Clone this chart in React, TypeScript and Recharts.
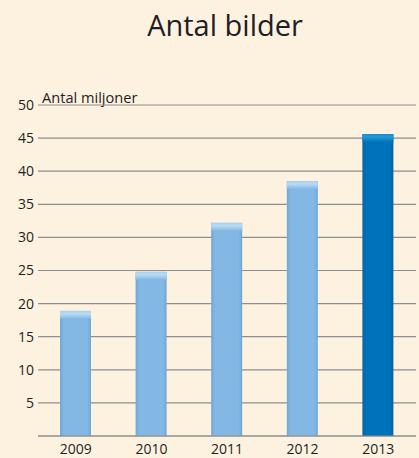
import React from 'react';
import { BarChart, Bar, XAxis, YAxis, CartesianGrid, Cell } from 'recharts';

const years = ['2009', '2010', '2011', '2012', '2013'];
const values = [18.9, 24.8, 32.2, 38.5, 45.6];
const yTicks = [5, 10, 15, 20, 25, 30, 35, 40, 45, 50];
const title = 'Antal bilder';
const unitLabel = 'Antal miljoner';

const data = years.map((year, i) => ({ year, value: values[i] }));

const FONT = '"Open Sans", "Noto Sans", sans-serif';

const BarShape = (props: any) => {
  const { x, y, width, height, index } = props;
  const dark = index === years.length - 1;
  const body = dark ? 'url(#gDarkBody)' : 'url(#gLightBody)';
  const top = dark ? 'url(#gDarkTop)' : 'url(#gLightTop)';
  const h = Math.min(8, height);
  return (
    <g>
      <rect x={x} y={y} width={width} height={height} fill={body} />
      <rect x={x} y={y} width={width} height={h} fill={top} />
    </g>
  );
};

export default function App() {
  return (
    <div
      style={{
        position: 'absolute',
        left: 0,
        top: 0,
        width: 419,
        height: 458,
        background: '#fdf2df',
        overflow: 'hidden',
      }}
    >
      <div
        style={{
          position: 'absolute',
          left: 0,
          top: 5,
          width: 450,
          textAlign: 'center',
          fontFamily: FONT,
          fontSize: 29,
          color: '#1e1e24',
        }}
      >
        {title}
      </div>
      <div
        style={{
          position: 'absolute',
          left: 42,
          top: 87,
          fontFamily: FONT,
          fontSize: 14.6,
          color: '#1e1e24',
        }}
      >
        {unitLabel}
      </div>
      <div style={{ position: 'absolute', left: 0, top: 0 }}>
        <BarChart
          width={419}
          height={458}
          data={data}
          margin={{ top: 105, right: 3, bottom: 0, left: 0 }}
        >
          <defs>
            <linearGradient id="gLightBody" x1="0" y1="0" x2="1" y2="0">
              <stop offset="0%" stopColor="#6fa6d6" />
              <stop offset="12%" stopColor="#82b8e3" />
              <stop offset="88%" stopColor="#82b8e3" />
              <stop offset="100%" stopColor="#6fa6d6" />
            </linearGradient>
            <linearGradient id="gLightTop" x1="0" y1="0" x2="0" y2="1">
              <stop offset="0%" stopColor="#a9d0ef" />
              <stop offset="35%" stopColor="#b9dbf4" />
              <stop offset="100%" stopColor="#82b8e3" />
            </linearGradient>
            <linearGradient id="gDarkBody" x1="0" y1="0" x2="1" y2="0">
              <stop offset="0%" stopColor="#0862a6" />
              <stop offset="12%" stopColor="#0072b9" />
              <stop offset="88%" stopColor="#0072b9" />
              <stop offset="100%" stopColor="#0862a6" />
            </linearGradient>
            <linearGradient id="gDarkTop" x1="0" y1="0" x2="0" y2="1">
              <stop offset="0%" stopColor="#1a8ccc" />
              <stop offset="35%" stopColor="#239ad8" />
              <stop offset="100%" stopColor="#0072b9" />
            </linearGradient>
          </defs>
          <CartesianGrid vertical={false} stroke="#8e8e8e" strokeWidth={1.2} />
          <XAxis
            dataKey="year"
            height={22}
            axisLine={{ stroke: '#8e8e8e', strokeWidth: 1.2 }}
            tickLine={false}
            tickSize={0}
            tickMargin={8}
            tick={{ fill: '#1e1e24', fontSize: 14, fontFamily: FONT }}
          />
          <YAxis
            width={38}
            domain={[0, 50]}
            ticks={yTicks}
            axisLine={false}
            tickLine={false}
            tickSize={0}
            tickMargin={4}
            interval={0}
            tick={{ fill: '#1e1e24', fontSize: 14, fontFamily: FONT }}
          />
          <Bar dataKey="value" barSize={31} isAnimationActive={false} shape={<BarShape />}>
            {data.map((d) => (
              <Cell key={d.year} />
            ))}
          </Bar>
        </BarChart>
      </div>
    </div>
  );
}
